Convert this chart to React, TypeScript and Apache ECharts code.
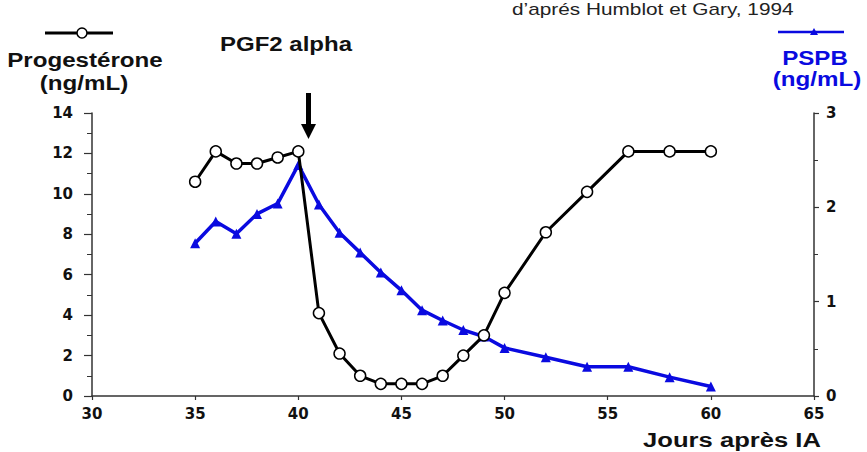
import React, { useEffect, useRef } from "react";
import * as echarts from "echarts";

const progDays = [35, 36, 37, 38, 39, 40, 41, 42, 43, 44, 45, 46, 47, 48, 49, 50, 52, 54, 56, 58, 60];
const progValues = [10.6, 12.1, 11.5, 11.5, 11.8, 12.1, 4.1, 2.1, 1.0, 0.6, 0.6, 0.6, 1.0, 2.0, 3.0, 5.1, 8.1, 10.1, 12.1, 12.1, 12.1];

const pspbDays = [35, 36, 37, 38, 39, 40, 41, 42, 43, 44, 45, 46, 47, 48, 49, 50, 52, 54, 56, 58, 60];
const pspbValues = [1.62, 1.85, 1.72, 1.93, 2.04, 2.45, 2.03, 1.73, 1.52, 1.31, 1.12, 0.91, 0.8, 0.7, 0.63, 0.51, 0.41, 0.31, 0.31, 0.2, 0.1];

const FONT = "'Liberation Sans', Arial, sans-serif";
const TICKFONT = "'DejaVu Sans', sans-serif";
const BLUE = "#0a0ae0";
const INK = "#111111";

export default function App() {
  const ref = useRef<HTMLDivElement>(null);
  useEffect(() => {
    if (!ref.current) return;
    const chart = echarts.init(ref.current, null, { renderer: "svg" });
    const labelStyle = { color: INK, fontWeight: "bold" as const, fontSize: 15, fontFamily: TICKFONT };
    const boldText = (x: number, y: number, text: string, fill: string, sx = 1.17, size = 20) => ({
      type: "text",
      x,
      y,
      scaleX: sx,
      style: { x: 0, y: 0, text, textAlign: "center", textVerticalAlign: "middle", fill, font: `bold ${size}px ${FONT}` },
    });
    chart.setOption({
      animation: false,
      backgroundColor: "#ffffff",
      grid: { left: 92, right: 53, top: 113, bottom: 56, containLabel: false },
      xAxis: {
        type: "value",
        min: 30,
        max: 65,
        interval: 5,
        splitLine: { show: false },
        axisLine: { lineStyle: { color: "#333", width: 1.5 } },
        axisTick: { show: true, length: 4, inside: false, lineStyle: { color: "#333", width: 1.2 } },
        axisLabel: { ...labelStyle, margin: 10 },
      },
      yAxis: [
        {
          type: "value",
          min: 0,
          max: 14,
          interval: 2,
          splitLine: { show: false },
          axisLine: { show: true, lineStyle: { color: "#333", width: 1.5 } },
          axisTick: { show: true, length: 8, lineStyle: { color: "#333", width: 1.2 } },
          minorTick: { show: true, splitNumber: 2, length: 5, lineStyle: { color: "#333", width: 1 } },
          axisLabel: { ...labelStyle, margin: 19 },
        },
        {
          type: "value",
          min: 0,
          max: 3,
          interval: 1,
          position: "right",
          splitLine: { show: false },
          axisLine: { show: true, lineStyle: { color: "#333", width: 1.5 } },
          axisTick: { show: true, length: 5, lineStyle: { color: "#333", width: 1.2 } },
          minorTick: { show: true, splitNumber: 2, length: 4, lineStyle: { color: "#333", width: 1 } },
          axisLabel: { ...labelStyle, margin: 12 },
        },
      ],
      series: [
        {
          name: "PSPB",
          type: "line",
          yAxisIndex: 1,
          data: pspbDays.map((d, i) => [d, pspbValues[i]]),
          symbol: "triangle",
          symbolSize: 10,
          itemStyle: { color: BLUE },
          lineStyle: { color: BLUE, width: 3.5 },
          z: 2,
        },
        {
          name: "Progestérone",
          type: "line",
          yAxisIndex: 0,
          data: progDays.map((d, i) => [d, progValues[i]]),
          symbol: "circle",
          symbolSize: 11,
          itemStyle: { color: "#ffffff", borderColor: "#000", borderWidth: 1.5 },
          lineStyle: { color: "#000", width: 3 },
          z: 3,
        },
      ],
      graphic: [
        // progesterone legend symbol
        { type: "line", shape: { x1: 45, y1: 33, x2: 113, y2: 33 }, style: { stroke: "#000", lineWidth: 3 } },
        { type: "circle", shape: { cx: 82, cy: 33, r: 5 }, style: { fill: "#fff", stroke: "#000", lineWidth: 1.5 } },
        boldText(85, 60, "Progestérone", INK, 1.15, 21),
        boldText(84, 83, "(ng/mL)", INK, 1.15, 21),
        boldText(286, 44, "PGF2 alpha", INK, 1.2, 20),
        {
          type: "text",
          x: 512,
          y: 9,
          scaleX: 1.3,
          style: { x: 0, y: 0, text: "d’aprés Humblot et Gary, 1994", textVerticalAlign: "middle", fill: "#222", font: `16px ${FONT}` },
        },
        // PSPB legend symbol
        { type: "line", shape: { x1: 778, y1: 32, x2: 844, y2: 32 }, style: { stroke: BLUE, lineWidth: 2.5 } },
        { type: "polygon", shape: { points: [[814, 28], [818, 35], [810, 35]] }, style: { fill: BLUE } },
        boldText(815, 58, "PSPB", BLUE, 1.15, 21),
        boldText(817, 79, "(ng/mL)", BLUE, 1.15, 21),
        // arrow
        { type: "line", shape: { x1: 308.5, y1: 93, x2: 308.5, y2: 126 }, style: { stroke: "#000", lineWidth: 5 } },
        { type: "polygon", shape: { points: [[301, 124], [316, 124], [308.5, 139]] }, style: { fill: "#000" } },
        boldText(732, 440, "Jours après IA", INK, 1.22, 21),
      ],
    });
    return () => chart.dispose();
  }, []);
  return <div ref={ref} style={{ position: "absolute", left: 0, top: 0, width: 867, height: 452 }} />;
}
